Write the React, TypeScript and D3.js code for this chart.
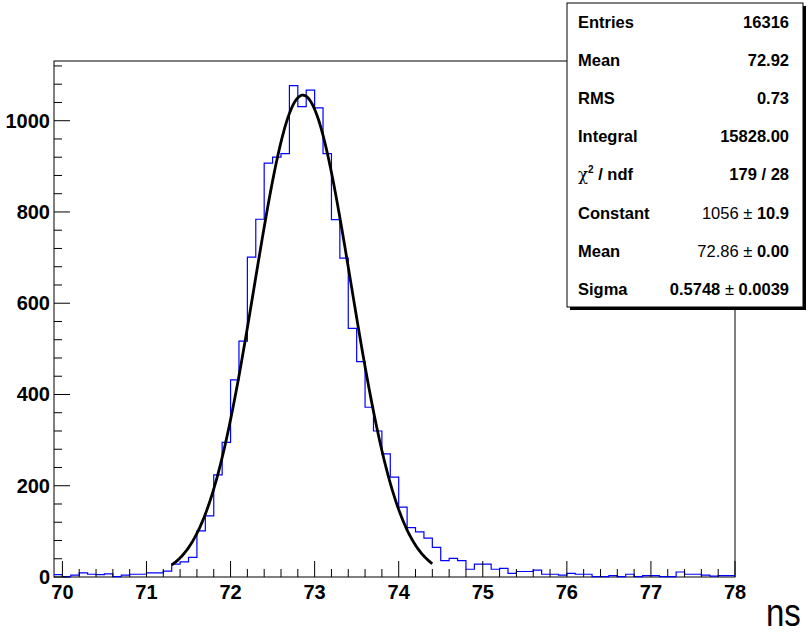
import React from "react";
import * as d3 from "d3";

// ---- data ----
const binStart = 69.9;
const binWidth = 0.1;
const counts = [
  5, 1, 4, 9, 6, 5, 7, 1, 4, 6, 6, 9, 9, 13, 28, 33, 43, 101, 134, 224, 295, 432, 517, 701, 784, 907,
  920, 928, 1077, 1031, 1067, 1028, 928, 783, 699, 545, 472, 372, 320, 270, 219, 153, 108, 99, 85, 65,
  36, 41, 36, 17, 28, 28, 17, 19, 8, 12, 12, 15, 6, 6, 4, 8, 6, 6, 1, 1, 3, 1, 6, 1, 3, 3, 1, 1, 11, 6,
  6, 4, 2, 3, 3,
];
const xMajorTicks = [70, 71, 72, 73, 74, 75, 76, 77, 78];
const yMajorTicks = [0, 200, 400, 600, 800, 1000];
const fitConstant = 1056;
const fitMean = 72.86;
const fitSigma = 0.5748;
const fitRange = [71.3, 74.4];
const statLabels = ["Entries", "Mean", "RMS", "Integral", "chi", "Constant", "Mean", "Sigma"];
const statValues = ["16316", "72.92", "0.73", "15828.00", "179 / 28", "", "", ""];
const statFitA = ["", "", "", "", "", "1056", "72.86", "0.5748"];
const statFitB = ["", "", "", "", "", "10.9", "0.00", "0.0039"];

const FONT = "'Liberation Sans', Arial, Helvetica, sans-serif";

export default function App() {
  const xMin = 69.9, xMax = 78.0;
  const x = d3.scaleLinear().domain([xMin, xMax]).range([54, 735]);
  const yTop = 1.05 * d3.max(counts)!;
  const y = d3.scaleLinear().domain([0, yTop]).range([577, 61]);

  const stepPts: [number, number][] = counts.map((c, i) => [binStart + i * binWidth, c]);
  stepPts.push([binStart + counts.length * binWidth, counts[counts.length - 1]]);
  const histPath = d3
    .line<[number, number]>()
    .x((d) => x(d[0]))
    .y((d) => y(d[1]))
    .curve(d3.curveStepAfter)(stepPts)!;

  const fitXs = d3.range(fitRange[0], fitRange[1] + 1e-9, (fitRange[1] - fitRange[0]) / 300);
  const fitPath = d3
    .line<number>()
    .x((v) => x(v))
    .y((v) => y(fitConstant * Math.exp(-0.5 * ((v - fitMean) / fitSigma) ** 2)))(fitXs)!;

  const xMinor = d3.range(70, 78.0001, 0.2).filter((v) => Math.abs(v - Math.round(v)) > 1e-6);
  const yMinor = d3.range(0, yTop, 40).filter((v) => v % 200 !== 0);

  const box = { x0: 567, y0: 3, x1: 803, y1: 307 };
  const rowY = (i: number) => 22 + i * 38.1 + 6;

  return (
    <svg
      width={808}
      height={634}
      style={{ position: "absolute", left: 0, top: 0, background: "#fff" }}
      fontFamily={FONT}
    >
      <rect x={0} y={0} width={808} height={634} fill="#fff" />
      {/* frame */}
      <rect x={54} y={61} width={735 - 54} height={577 - 61} fill="none" stroke="#000" strokeWidth={1} />
      {/* histogram */}
      <path d={histPath} fill="none" stroke="#0000ff" strokeWidth={1.2} />
      {/* fit */}
      <path d={fitPath} fill="none" stroke="#000" strokeWidth={2.8} strokeLinejoin="round" />
      {/* x ticks */}
      {xMajorTicks.map((t) => (
        <line key={"xM" + t} x1={x(t)} x2={x(t)} y1={577} y2={561} stroke="#000" strokeWidth={1} />
      ))}
      {xMinor.map((t, i) => (
        <line key={"xm" + i} x1={x(t)} x2={x(t)} y1={577} y2={569} stroke="#000" strokeWidth={1} />
      ))}
      {xMajorTicks.map((t) => (
        <text key={"xl" + t} x={x(t)} y={599} textAnchor="middle" fontSize={20} fontWeight="bold">
          {t}
        </text>
      ))}
      {/* y ticks */}
      {yMajorTicks.map((t) => (
        <line key={"yM" + t} x1={54} x2={70} y1={y(t)} y2={y(t)} stroke="#000" strokeWidth={1} />
      ))}
      {yMinor.map((t, i) => (
        <line key={"ym" + i} x1={54} x2={62} y1={y(t)} y2={y(t)} stroke="#000" strokeWidth={1} />
      ))}
      {yMajorTicks.map((t) => (
        <text key={"yl" + t} x={50} y={y(t) + 7} textAnchor="end" fontSize={20} fontWeight="bold">
          {t}
        </text>
      ))}
      {/* axis title */}
      <text x={766} y={626} fontSize={33} transform="translate(766,626) scale(1,1.18) translate(-766,-626)">
        ns
      </text>
      {/* stats box */}
      <rect x={box.x0 + 3} y={box.y0 + 3} width={box.x1 - box.x0} height={box.y1 - box.y0} fill="#000" />
      <rect x={box.x0} y={box.y0} width={box.x1 - box.x0} height={box.y1 - box.y0} fill="#fff" stroke="#000" strokeWidth={1} />
      {statLabels.map((l, i) => (
        <text key={"sl" + i} x={578} y={rowY(i)} fontSize={16.5} fontWeight="bold">
          {l === "chi" ? (
            <>
              <tspan fontWeight="normal" fontFamily="'DejaVu Serif', serif">χ</tspan>
              <tspan fontSize={10} dy={-7}>2</tspan>
              <tspan dy={7}> / ndf</tspan>
            </>
          ) : (
            l
          )}
        </text>
      ))}
      {statValues.map((v, i) =>
        v ? (
          <text key={"sv" + i} x={789} y={rowY(i)} fontSize={16.5} fontWeight="bold" textAnchor="end">
            {v}
          </text>
        ) : (
          <text key={"sv" + i} x={789} y={rowY(i)} fontSize={16.5} textAnchor="end">
            <tspan fontWeight={i === 7 ? "bold" : "normal"}>{statFitA[i]}</tspan>
            <tspan fontWeight="normal">{" ± "}</tspan>
            <tspan fontWeight="bold">{statFitB[i]}</tspan>
          </text>
        )
      )}
    </svg>
  );
}
